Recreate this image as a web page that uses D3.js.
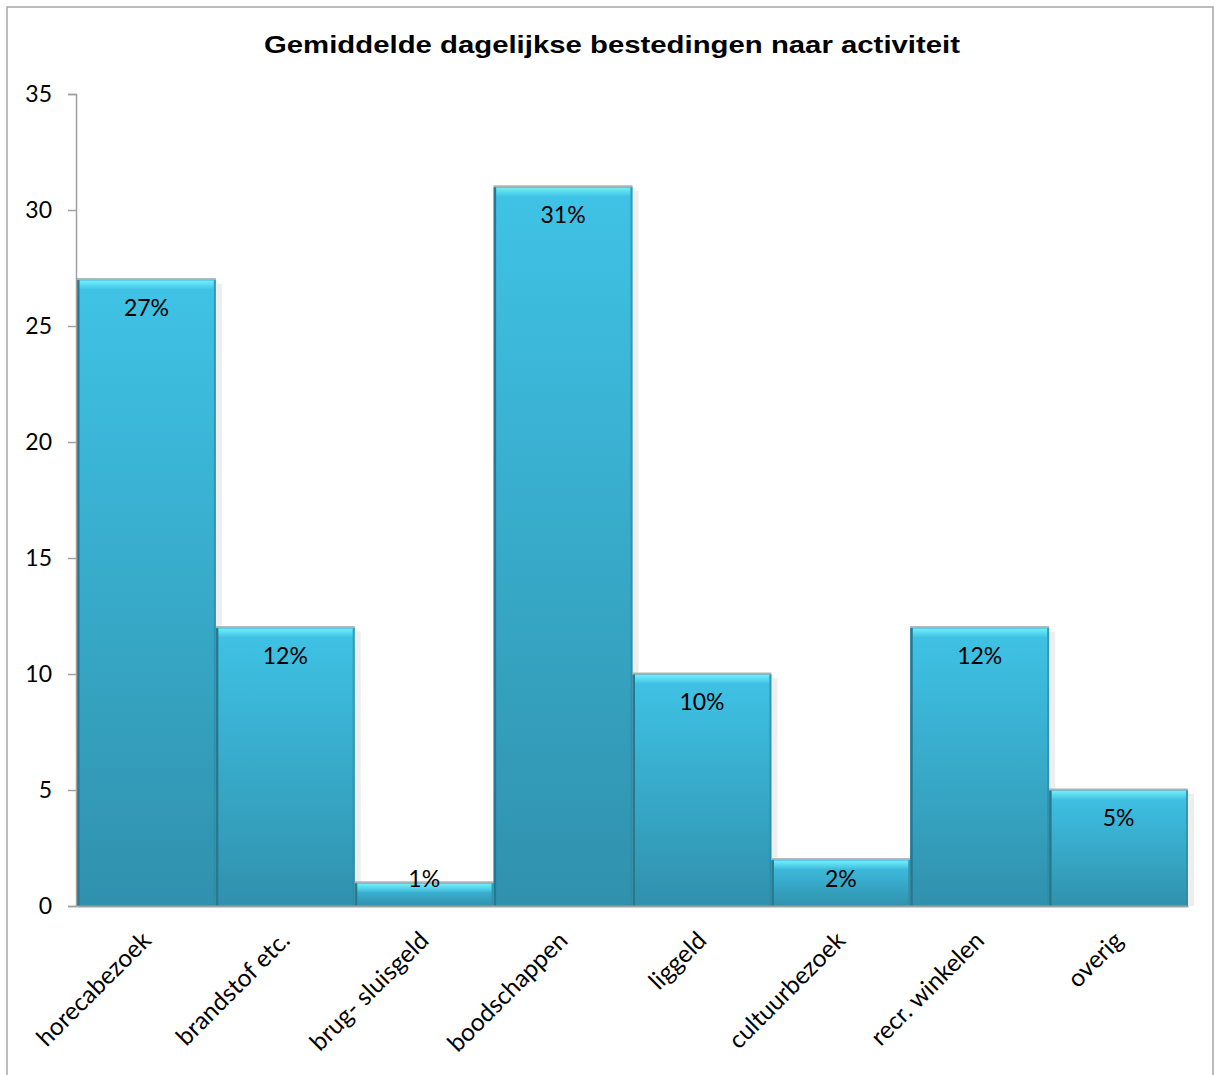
<!DOCTYPE html>
<html>
<head>
<meta charset="utf-8">
<script src="https://cdn.jsdelivr.net/npm/d3@7"></script>
<style>
  body { margin: 0; background: #fff; }
  svg { display: block; }
  .tick-lbl { font-family: Lato, "Open Sans", sans-serif; font-size: 23px; fill: #000; }
</style>
</head>
<body>
<svg id="chart" width="1215" height="1075"></svg>
<script>
// data
var categories = ["horecabezoek", "brandstof etc.", "brug- sluisgeld", "boodschappen",
                  "liggeld", "cultuurbezoek", "recr. winkelen", "overig"];
var values = [27, 12, 1, 31, 10, 2, 12, 5];
var pctLabels = ["27%", "12%", "1%", "31%", "10%", "2%", "12%", "5%"];
var yTicks = [0, 5, 10, 15, 20, 25, 30, 35];
var title = "Gemiddelde dagelijkse bestedingen naar activiteit";

var svg = d3.select("#chart");

// outer frame
svg.append("rect")
    .attr("x", 7).attr("y", 7)
    .attr("width", 1206).attr("height", 1090)
    .attr("fill", "none")
    .attr("stroke", "#a6a6a6")
    .attr("stroke-width", 1.5);

svg.append("text")
    .attr("x", 264).attr("y", 53)
    .attr("textLength", 696)
    .attr("lengthAdjust", "spacingAndGlyphs")
    .style("font-family", "'Liberation Sans', Arial, sans-serif")
    .style("font-weight", "bold")
    .style("font-size", "24px")
    .text(title);

var x = d3.scaleBand().domain(categories).range([77, 1188]).padding(0);
var y = d3.scaleLinear().domain([0, 35]).range([906, 94]);

var defs = svg.append("defs");
var grad = defs.append("linearGradient")
    .attr("id", "barfill")
    .attr("x1", 0).attr("y1", 0).attr("x2", 0).attr("y2", 1);
grad.append("stop").attr("offset", "0%").attr("stop-color", "#3fc3e6");
grad.append("stop").attr("offset", "100%").attr("stop-color", "#3091ad");

var bevel = defs.append("linearGradient")
    .attr("id", "bevel")
    .attr("x1", 0).attr("y1", 0).attr("x2", 0).attr("y2", 1);
bevel.append("stop").attr("offset", "0%").attr("stop-color", "#6feefa").attr("stop-opacity", 1);
bevel.append("stop").attr("offset", "100%").attr("stop-color", "#6feefa").attr("stop-opacity", 0);

var idx = d3.range(categories.length);

// soft shadow right of each bar
svg.append("g").selectAll("rect")
    .data(idx).enter().append("rect")
    .attr("x", i => x(categories[i]) + x.bandwidth())
    .attr("y", i => y(values[i]) + 4)
    .attr("width", 6)
    .attr("height", i => y(0) - y(values[i]) - 4)
    .attr("fill", "#eeeeee");

var bars = svg.append("g").selectAll("g")
    .data(idx).enter().append("g");

bars.append("rect")
    .attr("x", i => x(categories[i]))
    .attr("y", i => y(values[i]))
    .attr("width", x.bandwidth())
    .attr("height", i => y(0) - y(values[i]))
    .attr("fill", "url(#barfill)");

// bright top bevel
bars.append("rect")
    .attr("x", i => x(categories[i]) + 2)
    .attr("y", i => y(values[i]) + 1)
    .attr("width", x.bandwidth() - 4)
    .attr("height", i => Math.min(9, y(0) - y(values[i]) - 2))
    .attr("fill", "url(#bevel)");

// dark left edge
bars.append("rect")
    .attr("x", i => x(categories[i]))
    .attr("y", i => y(values[i]))
    .attr("width", 2.5)
    .attr("height", i => y(0) - y(values[i]))
    .attr("fill", "#28788e");

// darker right edge
bars.append("rect")
    .attr("x", i => x(categories[i]) + x.bandwidth() - 2)
    .attr("y", i => y(values[i]))
    .attr("width", 2)
    .attr("height", i => y(0) - y(values[i]))
    .attr("fill", "#2d8aa3")
    .attr("opacity", 0.7);

// grey top rim
bars.append("rect")
    .attr("x", i => x(categories[i]))
    .attr("y", i => y(values[i]) - 1.5)
    .attr("width", x.bandwidth())
    .attr("height", 2)
    .attr("fill", "#aab3b6");

// value labels
bars.append("text")
    .attr("x", i => x(categories[i]) + x.bandwidth() / 2)
    .attr("y", i => Math.min(y(values[i]) + 28, y(0) - 27))
    .attr("dy", "0.36em")
    .attr("text-anchor", "middle")
    .attr("class", "tick-lbl")
    .text(i => pctLabels[i]);

// y axis
var yAxis = svg.append("g")
    .attr("transform", "translate(76,0)")
    .call(d3.axisLeft(y).tickValues(yTicks).tickSize(8).tickPadding(6));
yAxis.select(".domain").attr("stroke", "#a0a0a0").attr("stroke-width", 1.5);
yAxis.selectAll(".tick line").attr("stroke", "#a0a0a0").attr("stroke-width", 1.5);
yAxis.selectAll(".tick text")
    .attr("class", "tick-lbl")
    .attr("x", -24)
    .style("font-family", "Lato, 'Open Sans', sans-serif")
    .style("font-size", "23px");

// x axis
var xAxis = svg.append("g")
    .attr("transform", "translate(0,906)")
    .call(d3.axisBottom(x).tickSize(0).tickSizeOuter(0));
xAxis.select(".domain").attr("stroke", "#a0a0a0").attr("stroke-width", 2);
xAxis.selectAll(".tick text")
    .attr("class", "tick-lbl")
    .style("font-family", "Lato, 'Open Sans', sans-serif")
    .style("font-size", "24.5px")
    .attr("text-anchor", "end")
    .attr("dy", null)
    .attr("y", 0)
    .attr("transform", "translate(6,36) rotate(-45)");
</script>
</body>
</html>
